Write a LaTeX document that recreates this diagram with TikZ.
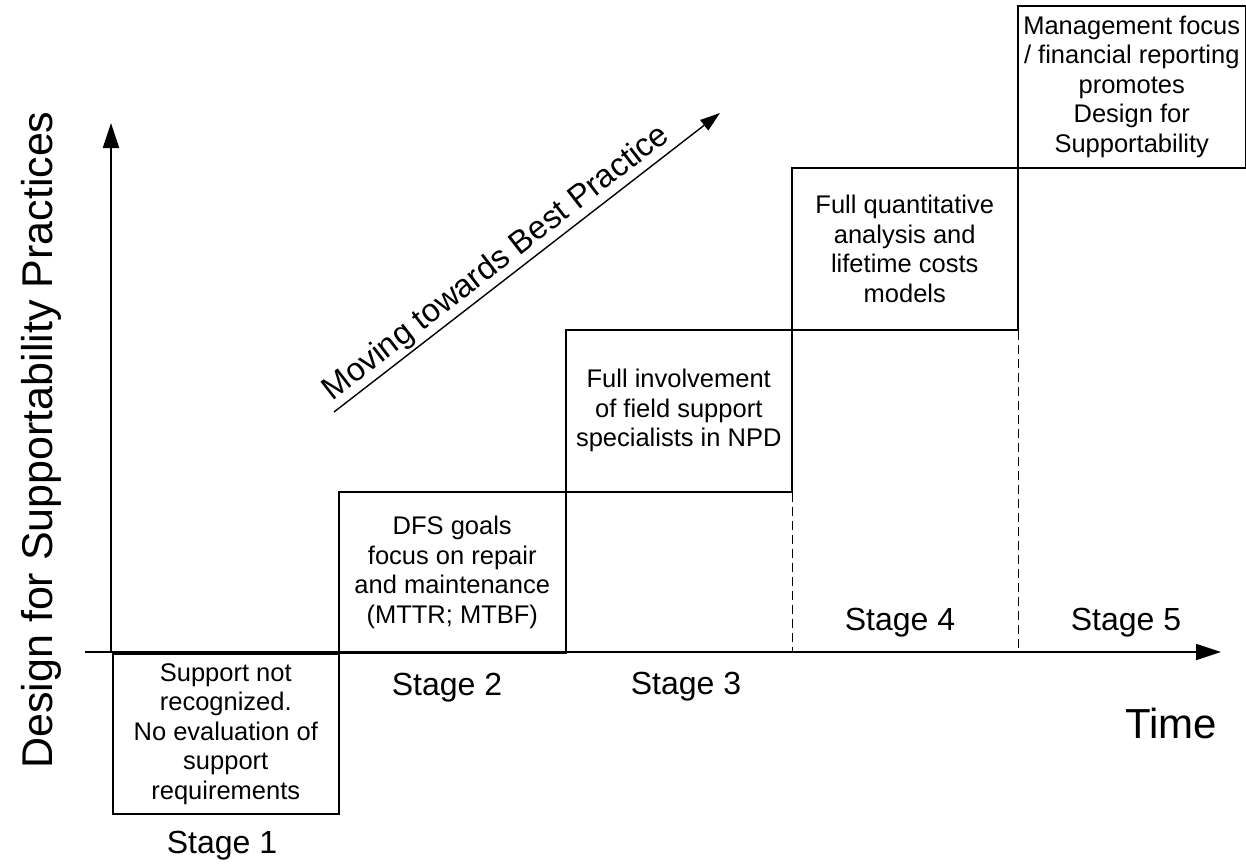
\documentclass[tikz,border=0pt]{standalone}
\usepackage{fontspec}
\setmainfont{Liberation Sans}
\usetikzlibrary{arrows.meta}
\begin{document}
\begin{tikzpicture}[x=1pt,y=-1pt,
  stagebox/.style={draw, line width=1.5pt, inner sep=0pt, align=center, anchor=north west,
    font=\fontsize{25.5}{29.5}\selectfont},
  stagelabel/.style={anchor=base, inner sep=0pt, font=\fontsize{32}{38}\selectfont},
  axis/.style={line width=1.8pt, -{Triangle[length=25pt,width=16pt]}},
  guide/.style={line width=1pt, dash pattern=on 9pt off 5pt},
  bigtext/.style={inner sep=0pt, font=\fontsize{43}{50}\selectfont}]
\useasboundingbox (0,0) rectangle (1246,865);

% axes
\coordinate (O) at (111,652);
\coordinate (ytip) at (111,123);
\coordinate (xstart) at (85,652);
\coordinate (xtip) at (1221,652);

% stage boxes
\node[stagebox, minimum width=226pt, minimum height=160pt] (s1) at (112,653)
  {Support not\\recognized.\\No evaluation of\\support\\requirements};
\node[stagebox, minimum width=227pt, minimum height=161pt] (s2) at (338,491)
  {DFS goals\\focus on repair\\and maintenance\\(MTTR; MTBF)};
\node[stagebox, minimum width=226pt, minimum height=162pt] (s3) at (565,329)
  {Full involvement\\of field support\\specialists in NPD};
\node[stagebox, minimum width=226pt, minimum height=162pt] (s4) at (791,167)
  {Full quantitative\\analysis and\\lifetime costs\\models};
\node[stagebox, minimum width=228pt, minimum height=162pt] (s5) at (1017,5)
  {Management focus\\/ financial reporting\\promotes\\Design for\\Supportability};

\draw[axis] (O) -- (ytip);
\draw[axis] (xstart) -- (xtip);

% dashed guides
\draw[guide] (s3.south east) -- (s3.south east |- O);
\draw[guide] (s4.south east) -- (s4.south east |- O);

% stage labels
\node[stagelabel] (l1) at (222,853) {Stage 1};
\node[stagelabel] (l2) at (447,695) {Stage 2};
\node[stagelabel] (l3) at (686,694) {Stage 3};
\node[stagelabel] (l4) at (900,630) {Stage 4};
\node[stagelabel] (l5) at (1126,630) {Stage 5};

% axis labels
\node[bigtext, anchor=base, rotate=90] (ylab) at (52,440) {Design for Supportability Practices};
\node[bigtext, anchor=base west, font=\fontsize{42}{50}\selectfont] (xlab) at (1125,738) {Time};

% diagonal arrow
\coordinate (d1) at (334,412);
\coordinate (d2) at (720,113);
\draw[line width=1.4pt, -{Triangle[length=20pt,width=13pt]}] (d1) -- (d2)
  node[pos=0.45, sloped, anchor=south, inner sep=0pt, yshift=2pt, font=\fontsize{32.5}{38}\selectfont] (dlab) {Moving towards Best Practice};
\end{tikzpicture}
\end{document}
